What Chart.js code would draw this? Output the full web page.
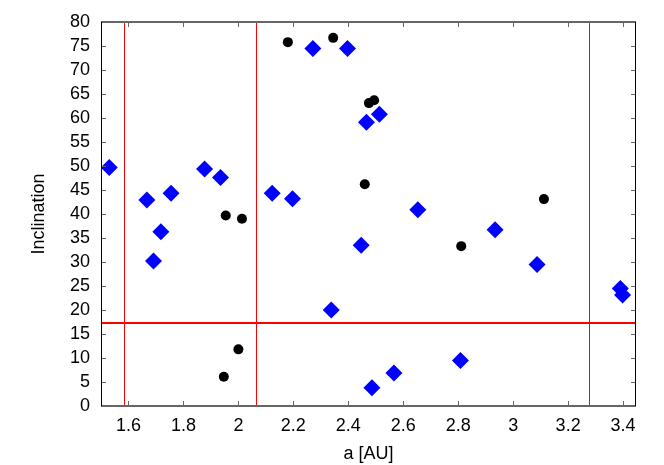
<!DOCTYPE html>
<html>
<head>
<meta charset="utf-8">
<title>Inclination vs a</title>
<script src="https://cdn.jsdelivr.net/npm/chart.js@4/dist/chart.umd.min.js"></script>
<style>
  html, body { margin: 0; padding: 0; background: #fff; }
  #wrap { width: 664px; height: 465px; }
</style>
</head>
<body>
<div id="wrap"><canvas id="incChart" width="664" height="465"></canvas></div>
<script>
// semi-major axis [AU] and inclination [deg]
const blueA   = [1.530, 1.667, 1.691, 1.718, 1.755, 1.877, 1.935, 2.123, 2.197, 2.271, 2.338, 2.397,
                 2.447, 2.466, 2.486, 2.513, 2.566, 2.653, 2.808, 2.934, 3.087, 3.390, 3.398];
const blueInc = [49.7, 42.9, 30.2, 36.3, 44.3, 49.4, 47.6, 44.3, 43.2, 74.5, 20.0, 74.5,
                 33.5, 59.1, 3.8, 60.8, 6.9, 40.9, 9.5, 36.7, 29.5, 24.5, 23.1];

const blackA   = [1.947, 1.954, 2.000, 2.013, 2.180, 2.345, 2.460, 2.475, 2.494, 2.811, 3.112];
const blackInc = [6.1, 39.7, 11.8, 39.0, 75.8, 76.7, 46.2, 63.1, 63.7, 33.3, 43.1];

// red reference lines
const gapA = [1.582, 2.065, 3.276];
const incLimit = 17.2;

const xTicks = [1.6, 1.8, 2.0, 2.2, 2.4, 2.6, 2.8, 3.0, 3.2, 3.4];
const yTicks = [0, 5, 10, 15, 20, 25, 30, 35, 40, 45, 50, 55, 60, 65, 70, 75, 80];

const FONT = "'Liberation Sans', Arial, sans-serif";

function toPoints(xs, ys) {
  return xs.map((x, i) => ({ x: x, y: ys[i] }));
}

// red lines behind the markers
const refLines = {
  id: "refLines",
  beforeDatasetsDraw(chart) {
    const { ctx, chartArea: a, scales: { x, y } } = chart;
    ctx.save();
    ctx.strokeStyle = "#ff0000";
    ctx.lineWidth = 1;
    gapA.forEach(v => {
      const px = Math.round(x.getPixelForValue(v)) + 0.5;
      ctx.beginPath();
      ctx.moveTo(px, a.top);
      ctx.lineTo(px, a.bottom);
      ctx.stroke();
    });
    ctx.lineWidth = 2;
    const py = Math.round(y.getPixelForValue(incLimit));
    ctx.beginPath();
    ctx.moveTo(a.left, py);
    ctx.lineTo(a.right, py);
    ctx.stroke();
    ctx.restore();
  }
};

// gnuplot-like frame with inward ticks on all four sides
const frame = {
  id: "frame",
  afterDatasetsDraw(chart) {
    const { ctx, chartArea: a, scales: { x, y } } = chart;
    const tl = 5;
    ctx.save();
    ctx.strokeStyle = "#666";
    ctx.lineWidth = 1;
    xTicks.forEach(v => {
      const px = Math.round(x.getPixelForValue(v)) + 0.5;
      ctx.beginPath();
      ctx.moveTo(px, a.bottom);
      ctx.lineTo(px, a.bottom - tl);
      ctx.moveTo(px, a.top);
      ctx.lineTo(px, a.top + tl);
      ctx.stroke();
    });
    yTicks.forEach(v => {
      const py = Math.round(y.getPixelForValue(v)) + 0.5;
      ctx.beginPath();
      ctx.moveTo(a.left, py);
      ctx.lineTo(a.left + tl, py);
      ctx.moveTo(a.right, py);
      ctx.lineTo(a.right - tl, py);
      ctx.stroke();
    });
    ctx.lineWidth = 2;
    ctx.beginPath();
    ctx.moveTo(a.left, a.top);
    ctx.lineTo(a.right, a.top);
    ctx.moveTo(a.left, a.bottom);
    ctx.lineTo(a.right, a.bottom);
    ctx.stroke();
    ctx.strokeStyle = "#000";
    ctx.lineWidth = 1;
    ctx.beginPath();
    ctx.moveTo(Math.round(a.left) + 0.5, a.top);
    ctx.lineTo(Math.round(a.left) + 0.5, a.bottom);
    ctx.moveTo(Math.round(a.right) - 0.5, a.top);
    ctx.lineTo(Math.round(a.right) - 0.5, a.bottom);
    ctx.stroke();
    ctx.restore();
  }
};

document.addEventListener("DOMContentLoaded", () => {
  const ctx = document.getElementById("incChart").getContext("2d");
  new Chart(ctx, {
    type: "scatter",
    data: {
      datasets: [
        {
          label: "diamonds",
          data: toPoints(blueA, blueInc),
          pointStyle: "rectRot",
          pointRadius: 8.5,
          backgroundColor: "#0000ff",
          borderColor: "#0000ff",
          borderWidth: 0
        },
        {
          label: "circles",
          data: toPoints(blackA, blackInc),
          pointStyle: "circle",
          pointRadius: 5,
          backgroundColor: "#000",
          borderColor: "#000",
          borderWidth: 0
        }
      ]
    },
    options: {
      responsive: false,
      animation: false,
      events: [],
      layout: { padding: { left: 0, right: 28, top: 22, bottom: 0 } },
      plugins: {
        legend: { display: false },
        tooltip: { enabled: false }
      },
      scales: {
        x: {
          type: "linear",
          min: 1.5,
          max: 3.447,
          afterBuildTicks: s => { s.ticks = xTicks.map(v => ({ value: v })); },
          afterFit: s => { s.height = 59; },
          grid: { display: false, drawTicks: false },
          border: { display: false },
          ticks: {
            padding: 9,
            color: "#000",
            font: { family: FONT, size: 18 },
            autoSkip: false,
            maxRotation: 0,
            callback: v => String(v)
          },
          title: {
            display: true,
            text: "a [AU]",
            color: "#000",
            font: { family: FONT, size: 18 },
            padding: { top: 0, bottom: 0 }
          }
        },
        y: {
          type: "linear",
          min: 0,
          max: 80,
          afterBuildTicks: s => { s.ticks = yTicks.map(v => ({ value: v })); },
          afterFit: s => { s.width = 101; },
          grid: { display: false, drawTicks: false },
          border: { display: false },
          ticks: {
            padding: 11,
            color: "#000",
            font: { family: FONT, size: 18 },
            autoSkip: false,
            callback: v => String(v)
          },
          title: {
            display: true,
            text: "Inclination",
            color: "#000",
            font: { family: FONT, size: 18 },
            padding: { top: 28, bottom: 0 }
          }
        }
      }
    },
    plugins: [refLines, frame]
  });
});
</script>
</body>
</html>
